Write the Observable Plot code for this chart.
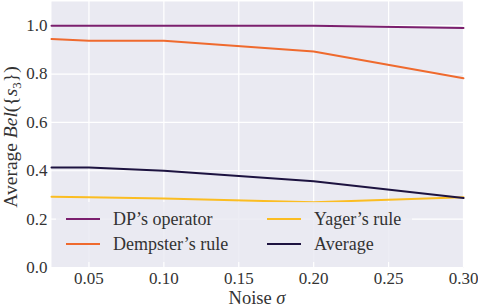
<!DOCTYPE html>
<html><head><meta charset="utf-8">
<script src="https://cdn.jsdelivr.net/npm/d3@7"></script>
<script src="https://cdn.jsdelivr.net/npm/@observablehq/plot@0.6"></script>
<style>body{margin:0;background:#fff} #c{width:478px;height:308px}</style>
</head><body><div id="c"></div>
<script>
const noise = [0.025, 0.05, 0.1, 0.2, 0.3];
const dpOperator = [1.0, 1.0, 1.0, 1.0, 0.99];
const dempster = [0.945, 0.938, 0.938, 0.893, 0.783];
const yager = [0.293, 0.29, 0.285, 0.27, 0.29];
const average = [0.414, 0.414, 0.40, 0.357, 0.287];
const names = ["DP’s operator", "Dempster’s rule", "Yager’s rule", "Average"];
const colors = ["#7b1f6e", "#ef6a2e", "#fbbd22", "#1d1340"];
const xTicks = [0.05, 0.10, 0.15, 0.20, 0.25, 0.30];
const yTicks = [0.0, 0.2, 0.4, 0.6, 0.8, 1.0];

const seriesValues = [dpOperator, dempster, yager, average];
const rows = names.flatMap((n, k) => noise.map((x, i) => ({x, y: seriesValues[k][i], name: n})));

const W = 478, H = 308, mL = 51, mR = 15, mT = 1, mB = 41;
const font = "'Liberation Serif', 'DejaVu Serif', serif";
const plot = Plot.plot({
  width: W, height: H, marginLeft: mL, marginRight: mR, marginTop: mT, marginBottom: mB,
  style: {fontFamily: font, fontSize: "17px", background: "#fff", color: "#333"},
  x: {domain: [0.025, 0.30]},
  y: {domain: [0, 1.1]},
  color: {domain: names, range: colors},
  marks: [
    Plot.frame({fill: "#EAEAF2", stroke: "none"}),
    Plot.gridX(xTicks, {stroke: "#fff", strokeOpacity: 1, strokeWidth: 1.2}),
    Plot.gridY(yTicks, {stroke: "#fff", strokeOpacity: 1, strokeWidth: 1.2}),
    Plot.axisX(xTicks, {tickSize: 0, tickPadding: 4, tickFormat: d3.format(".2f"), label: null, fill: "#333"}),
    Plot.axisY(yTicks, {tickSize: 0, tickPadding: 4, tickFormat: d3.format(".1f"), label: null, fill: "#333"}),
    Plot.lineY(rows, {x: "x", y: "y", stroke: "name", z: "name", strokeWidth: 2})
  ]
});
document.getElementById("c").appendChild(plot);

const svg = d3.select(plot);
// axis labels
svg.append("text").attr("x", mL + (W - mL - mR) / 2).attr("y", 304)
  .attr("text-anchor", "middle").attr("font-size", 18.5).attr("fill", "#333")
  .style("font-family", font)
  .call(t => { t.append("tspan").text("Noise "); t.append("tspan").attr("font-style", "italic").text("σ"); });
const yl = svg.append("text")
  .attr("transform", `translate(17,${mT + (H - mT - mB) / 2 + 3}) rotate(-90)`)
  .attr("text-anchor", "middle").attr("font-size", 19.5).attr("fill", "#333").style("font-family", font);
yl.append("tspan").text("Average ");
yl.append("tspan").attr("font-style", "italic").text("Bel");
yl.append("tspan").text("({");
yl.append("tspan").attr("font-style", "italic").text("s");
yl.append("tspan").attr("font-size", 13).attr("dy", 4).text("3");
yl.append("tspan").attr("dy", -4).text("})");

// legend
const lg = svg.append("g");
lg.append("rect").attr("x", 56).attr("y", 202).attr("width", 356).attr("height", 60)
  .attr("rx", 3).attr("fill", "#EAEAF2").attr("fill-opacity", 0.85);
names.forEach((n, i) => {
  const col = Math.floor(i / 2), row = i % 2;
  const x0 = col ? 267 : 66, y0 = row ? 244 : 219;
  lg.append("line").attr("x1", x0).attr("x2", x0 + 34).attr("y1", y0).attr("y2", y0)
    .attr("stroke", colors[i]).attr("stroke-width", 2);
  lg.append("text").attr("x", x0 + 47).attr("y", y0 + 6).attr("font-size", 18)
    .attr("text-anchor", "start")
    .attr("fill", "#333").style("font-family", font).text(n);
});
</script></body></html>
